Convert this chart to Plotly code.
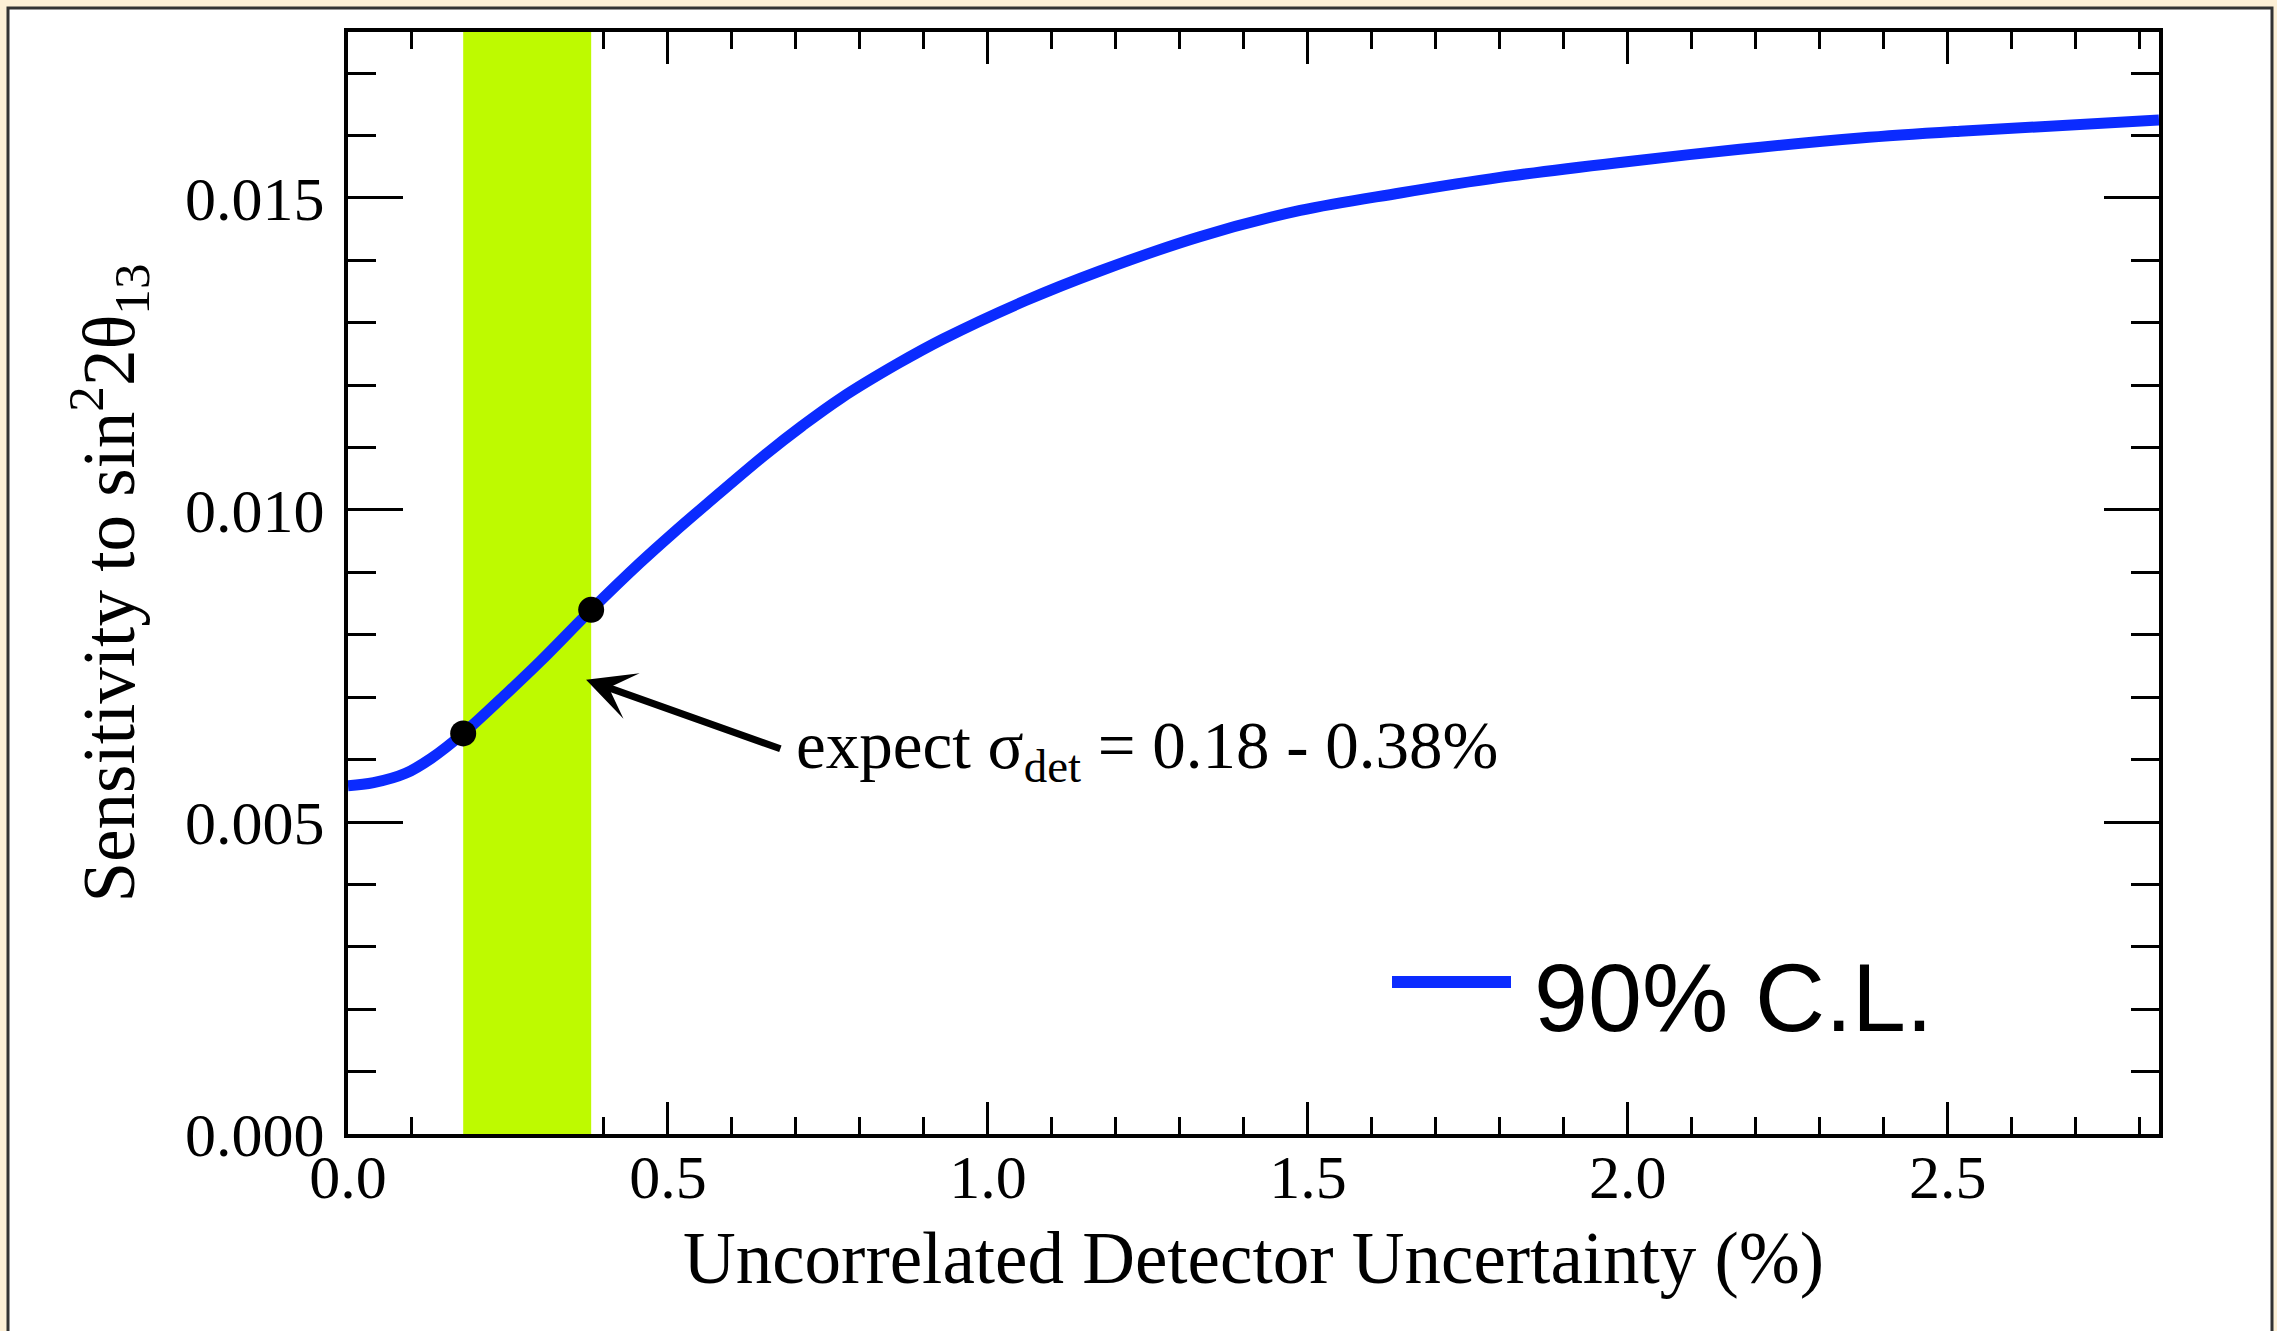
import plotly.graph_objects as go

# Sensitivity curve (90% C.L.) vs. uncorrelated detector uncertainty
uncert_pct = [0.0, 0.04, 0.09, 0.13, 0.18, 0.25, 0.30, 0.38, 0.456, 0.508,
              0.56, 0.65, 0.71, 0.77, 0.86, 0.93, 1.06, 1.175, 1.331, 1.488,
              1.644, 1.80, 1.988, 2.175, 2.363, 2.519, 2.83]
sensitivity = [0.00558, 0.00563, 0.00578, 0.00602, 0.00642, 0.00708, 0.00757,
               0.00840, 0.00915, 0.00963, 0.01009, 0.01087, 0.01135, 0.01179,
               0.01235, 0.01274, 0.01336, 0.01383, 0.01438, 0.01480, 0.01508,
               0.01533, 0.01557, 0.01578, 0.01596, 0.01607, 0.01625]

# Expected detector uncertainty range and the curve values at its edges
expected_range = [0.18, 0.38]
expected_sens = [0.00642, 0.00840]

x_range = [0.0, 2.83]
y_range = [0.0, 0.01766]
x_ticks = [0.0, 0.5, 1.0, 1.5, 2.0, 2.5]
x_tick_text = ["0.0", "0.5", "1.0", "1.5", "2.0", "2.5"]
y_ticks = [0.0, 0.005, 0.010, 0.015]
y_tick_text = ["0.000", "0.005", "0.010", "0.015"]

BLUE = "#0B2BFF"
LIME = "#BEFA00"
SERIF = "Liberation Serif, Times New Roman, serif"
SANS = "Liberation Sans, Arial, sans-serif"

W, H = 2277, 1331
ML, MR, MT, MB = 348, 118, 32, 197
PW, PH = W - ML - MR, H - MT - MB


def px(xp):
    return (xp - ML) / PW


def py(yp):
    return (H - MB - yp) / PH


fig = go.Figure()

# expected-range band
lo, hi = expected_range
fig.add_trace(go.Scatter(
    x=[lo, hi, hi, lo, lo],
    y=[y_range[0], y_range[0], y_range[1], y_range[1], y_range[0]],
    mode="lines", fill="toself", fillcolor=LIME,
    line=dict(width=0, color=LIME), hoverinfo="skip", showlegend=False,
))

fig.add_trace(go.Scatter(
    x=uncert_pct, y=sensitivity, mode="lines",
    line=dict(color=BLUE, width=11, shape="spline", smoothing=1.0),
    name="90% C.L.", showlegend=False,
))

fig.add_trace(go.Scatter(
    x=expected_range, y=expected_sens, mode="markers",
    marker=dict(color="black", size=26), showlegend=False,
))

axis_common = dict(
    showgrid=False, zeroline=False, showline=True, linecolor="black",
    linewidth=4, mirror="ticks", ticks="inside", tickcolor="black",
    tickwidth=3, layer="below traces",
    tickfont=dict(family=SERIF, size=62, color="black"),
)

fig.update_xaxes(
    range=x_range, tickvals=x_ticks, ticktext=x_tick_text, ticklen=32,
    ticklabelstandoff=-14,
    minor=dict(ticks="inside", dtick=0.1, ticklen=17, tickwidth=3,
               tickcolor="black", showgrid=False),
    title=dict(text="Uncorrelated Detector Uncertainty (%)",
               font=dict(family=SERIF, size=73, color="black"), standoff=22),
    **axis_common,
)
fig.update_yaxes(
    range=y_range, tickvals=y_ticks, ticktext=y_tick_text, ticklen=55,
    ticklabelstandoff=7,
    minor=dict(ticks="inside", dtick=0.001, ticklen=28, tickwidth=3,
               tickcolor="black", showgrid=False),
    title=dict(text="Sensitivity to sin<sup>2</sup>2θ<sub>13</sub>",
               font=dict(family=SERIF, size=73, color="black"), standoff=28),
    **axis_common,
)

shapes = [
    # outer white frame on the cream page
    dict(type="rect", xref="paper", yref="paper",
         x0=px(8), x1=px(2272), y0=py(1345), y1=py(8),
         fillcolor="white", line=dict(color="#333333", width=3), layer="below"),
    # legend sample line
    dict(type="line", xref="paper", yref="paper",
         x0=px(1392), x1=px(1511), y0=py(982), y1=py(982),
         line=dict(color=BLUE, width=12)),
]

annotations = [
    dict(xref="paper", yref="paper", x=px(1532), y=py(997),
         xanchor="left", yanchor="middle", showarrow=False,
         text="90% C.L.", font=dict(family=SANS, size=97, color="black")),
    dict(xref="x", yref="y", x=0.372, y=0.00728, ax=0.678, ay=0.006165,
         axref="x", ayref="y", text="", showarrow=True, arrowhead=3,
         arrowsize=1.15, arrowwidth=7, arrowcolor="black"),
    dict(xref="x", yref="y", x=0.697, y=0.00615, xanchor="left",
         yanchor="middle", showarrow=False,
         text="expect σ<sub>det</sub> = 0.18 - 0.38%",
         font=dict(family=SERIF, size=67, color="black")),
]

fig.update_layout(
    width=W, height=H,
    margin=dict(l=ML, r=MR, t=MT, b=MB, pad=0),
    paper_bgcolor="#FDF0D6", plot_bgcolor="white",
    shapes=shapes, annotations=annotations, showlegend=False,
)

fig.write_html("out.html")
